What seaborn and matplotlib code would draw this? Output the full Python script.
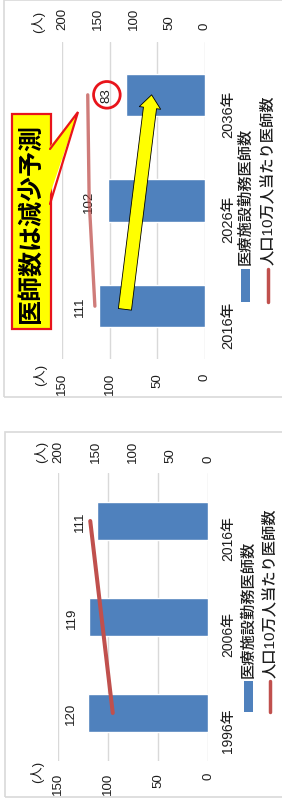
import numpy as np
import pandas as pd
import matplotlib
matplotlib.use("Agg")
import matplotlib.pyplot as plt
import seaborn as sns
from matplotlib.patches import Rectangle, Polygon
from matplotlib.lines import Line2D

W, H = 282, 803

# ---------------------------------------------------------------------------
# data
# ---------------------------------------------------------------------------
years_new = ["2016年", "2026年", "2036年"]
doctors_new = [111, 102, 83]          # 医療施設勤務医師数 (left axis)
per100k_new = [154, 162, 164]         # 人口10万人当たり医師数 (right axis)

years_old = ["1996年", "2006年", "2016年"]
doctors_old = [120, 119, 111]
per100k_old = [127, 142, 157]

left_ticks = [0, 50, 100, 150]
right_ticks = [0, 50, 100, 150, 200]
unit_label = "(人)"
legend_labels = ["医療施設勤務医師数", "人口10万人当たり医師数"]
callout_text = "医師数は減少予測"

BLUE = "#4F81BD"
RED = "#C0504D"
GRID = "#D9D9D9"
TXT = "#1E1E1E"
YELLOW = "#FFFF00"
CALLOUT_RED = "#E8141B"

sns.set_theme(style="white")
plt.rcParams["font.family"] = ["Liberation Sans", "Noto Sans CJK JP", "DejaVu Sans"]

fig = plt.figure(figsize=(W / 100, H / 100), dpi=100)
fig.patch.set_facecolor("white")


def fx(x):
    return x / W


def fy(y):
    return 1 - y / H


# panel frames (light grey border, right edge runs off the picture)
for (x0, y0, y1) in [(4, 1, 398), (5, 433, 798)]:
    fig.patches.append(Rectangle((fx(x0), fy(y1)), 1.05 - fx(x0), fy(y0) - fy(y1),
                                 transform=fig.transFigure, fill=False,
                                 ec=GRID, lw=1.2, zorder=0))


def draw_panel(box, years, doctors, per100k, cat_fs, cat_pad, tick_pad,
               line_lw, line_alpha, lab_off, unit_bot, unit_top, leg):
    x0, y0, x1, y1 = box
    ax = fig.add_axes([fx(x0), fy(y1), fx(x1) - fx(x0), fy(y0) - fy(y1)])
    order = years[::-1]   # newest on top
    df = pd.DataFrame({"year": years, "doctors": doctors, "per100k": per100k})
    df["pos"] = [order.index(y) for y in years]

    sns.barplot(data=df, x="doctors", y="year", order=order, orient="h",
                color=BLUE, saturation=1, width=0.4, ax=ax, zorder=2)
    ax.set_xlim(left_ticks[-1], left_ticks[0])
    ax.set_xticks(left_ticks)
    ax.set_xticklabels([str(t) for t in left_ticks])
    ax.grid(axis="x", color=GRID, lw=1)
    ax.grid(axis="y", visible=False)
    ax.set_axisbelow(True)
    ax.set_xlabel("")
    ax.set_ylabel("")
    ax.yaxis.tick_right()
    ax.tick_params(axis="x", length=0, pad=tick_pad, labelrotation=90,
                   labelsize=9.5, labelcolor=TXT)
    ax.tick_params(axis="y", length=0, pad=cat_pad, labelrotation=90,
                   labelsize=cat_fs, labelcolor=TXT)
    for t in ax.get_yticklabels():
        t.set_fontweight("medium")
    for s in ax.spines.values():
        s.set_visible(False)

    ax2 = ax.twiny()
    sns.lineplot(data=df, x="per100k", y="pos", sort=False, orient="y",
                 color=RED, lw=line_lw, alpha=line_alpha, ax=ax2)
    ax2.set_xlim(right_ticks[-1], right_ticks[0])
    ax2.set_xticks(right_ticks)
    ax2.set_xticklabels([str(t) for t in right_ticks])
    ax2.set_xlabel("")
    ax2.set_ylabel("")
    ax2.tick_params(axis="x", length=0, pad=tick_pad, labelrotation=90,
                    labelsize=9.5, labelcolor=TXT)
    for s in ax2.spines.values():
        s.set_visible(False)
    ax.set_ylim(len(order) - 0.5, -0.5)

    # data labels for the bars
    labels = []
    for _, r in df.iterrows():
        t = ax.annotate(str(r["doctors"]), xy=(r["doctors"], r["pos"]),
                        xytext=(-lab_off, 0), textcoords="offset pixels",
                        ha="center", va="center", rotation=90,
                        fontsize=9.5, color=TXT, zorder=5)
        labels.append(t)

    # unit labels
    ax.annotate(unit_label, xy=(0, 0), xycoords="axes fraction",
                xytext=unit_bot, textcoords="offset pixels",
                ha="center", va="center", rotation=90, fontsize=9.5, color=TXT)
    ax.annotate(unit_label, xy=(0, 1), xycoords="axes fraction",
                xytext=unit_top, textcoords="offset pixels",
                ha="center", va="center", rotation=90, fontsize=9.5, color=TXT)

    # legend, drawn rotated by hand
    hb, ht, tstart, xb, xr = leg
    tr = fig.transFigure
    fig.patches.append(Rectangle((fx(xb - 4.5), fy(hb)), fx(9), fy(ht) - fy(hb),
                                 transform=tr, fc=BLUE, ec="none"))
    fig.lines.append(Line2D([fx(xr), fx(xr)], [fy(hb), fy(ht)], transform=tr,
                            color=RED, lw=2.5))
    for xc, lab in zip([xb, xr], legend_labels):
        fig.text(fx(xc), fy(tstart), lab, rotation=90, rotation_mode="anchor",
                 ha="left", va="center", fontsize=11, color=TXT,
                 fontweight="medium")
    return ax, df, labels


# top panel: 2016 -> 2036 forecast
ax1, df1, lab1 = draw_panel((62, 43, 205, 360), years_new, doctors_new, per100k_new,
                            cat_fs=10.5, cat_pad=12, tick_pad=9.5,
                            line_lw=2.4, line_alpha=0.75, lab_off=19,
                            unit_bot=(-22, -15), unit_top=(-24, 21),
                            leg=(303, 270, 265, 245, 268))

# bottom panel: 1996 -> 2016 actual
ax2_, df2, lab2 = draw_panel((58, 474, 208, 762), years_old, doctors_old, per100k_old,
                             cat_fs=10, cat_pad=9.5, tick_pad=8,
                             line_lw=2.9, line_alpha=1.0, lab_off=17,
                             unit_bot=(-21, -10), unit_top=(-17, 22),
                             leg=(713, 682, 678, 248, 270))

# red circle round the last forecast value
lab1[-1].set_bbox(dict(boxstyle="circle,pad=0.45", fc="none", ec=CALLOUT_RED, lw=2))

# yellow arrow showing the decline
p_first = df1["pos"].iloc[0]
p_last = df1["pos"].iloc[-1]
ax1.annotate("", xy=(56, p_last), xytext=(84, p_first + 0.03),
             arrowprops=dict(arrowstyle="simple,head_length=0.95,head_width=1.55,tail_width=0.95",
                             fc=YELLOW, ec="black", lw=0.6, shrinkA=0, shrinkB=0,
                             mutation_scale=10),
             zorder=6)

# callout box
ax1.annotate(callout_text, xy=(182.5, 1.2), xycoords="data",
             rotation=90, ha="center", va="center",
             fontsize=18, weight="bold", color="black",
             bbox=dict(boxstyle="square,pad=0.3", fc=YELLOW, ec=CALLOUT_RED, lw=1.6),
             annotation_clip=False, zorder=7)

# callout pointer (fill covers the box border where it joins)
tip = (78, 113)
base = [(50, 150), (50, 205)]
ptr = Polygon([(fx(47), fy(base[0][1] + 1)), (fx(tip[0]), fy(tip[1])),
               (fx(47), fy(base[1][1] - 1))],
              closed=True, transform=fig.transFigure, fc=YELLOW, ec="none",
              clip_on=False, zorder=8)
ax1.add_patch(ptr)
ax1.add_line(Line2D([fx(base[0][0]), fx(tip[0]), fx(base[1][0])],
                    [fy(base[0][1]), fy(tip[1]), fy(base[1][1])],
                    transform=fig.transFigure, color=CALLOUT_RED, lw=1.6,
                    solid_joinstyle="miter", clip_on=False, zorder=8))

fig.savefig("out.png", dpi=100)
